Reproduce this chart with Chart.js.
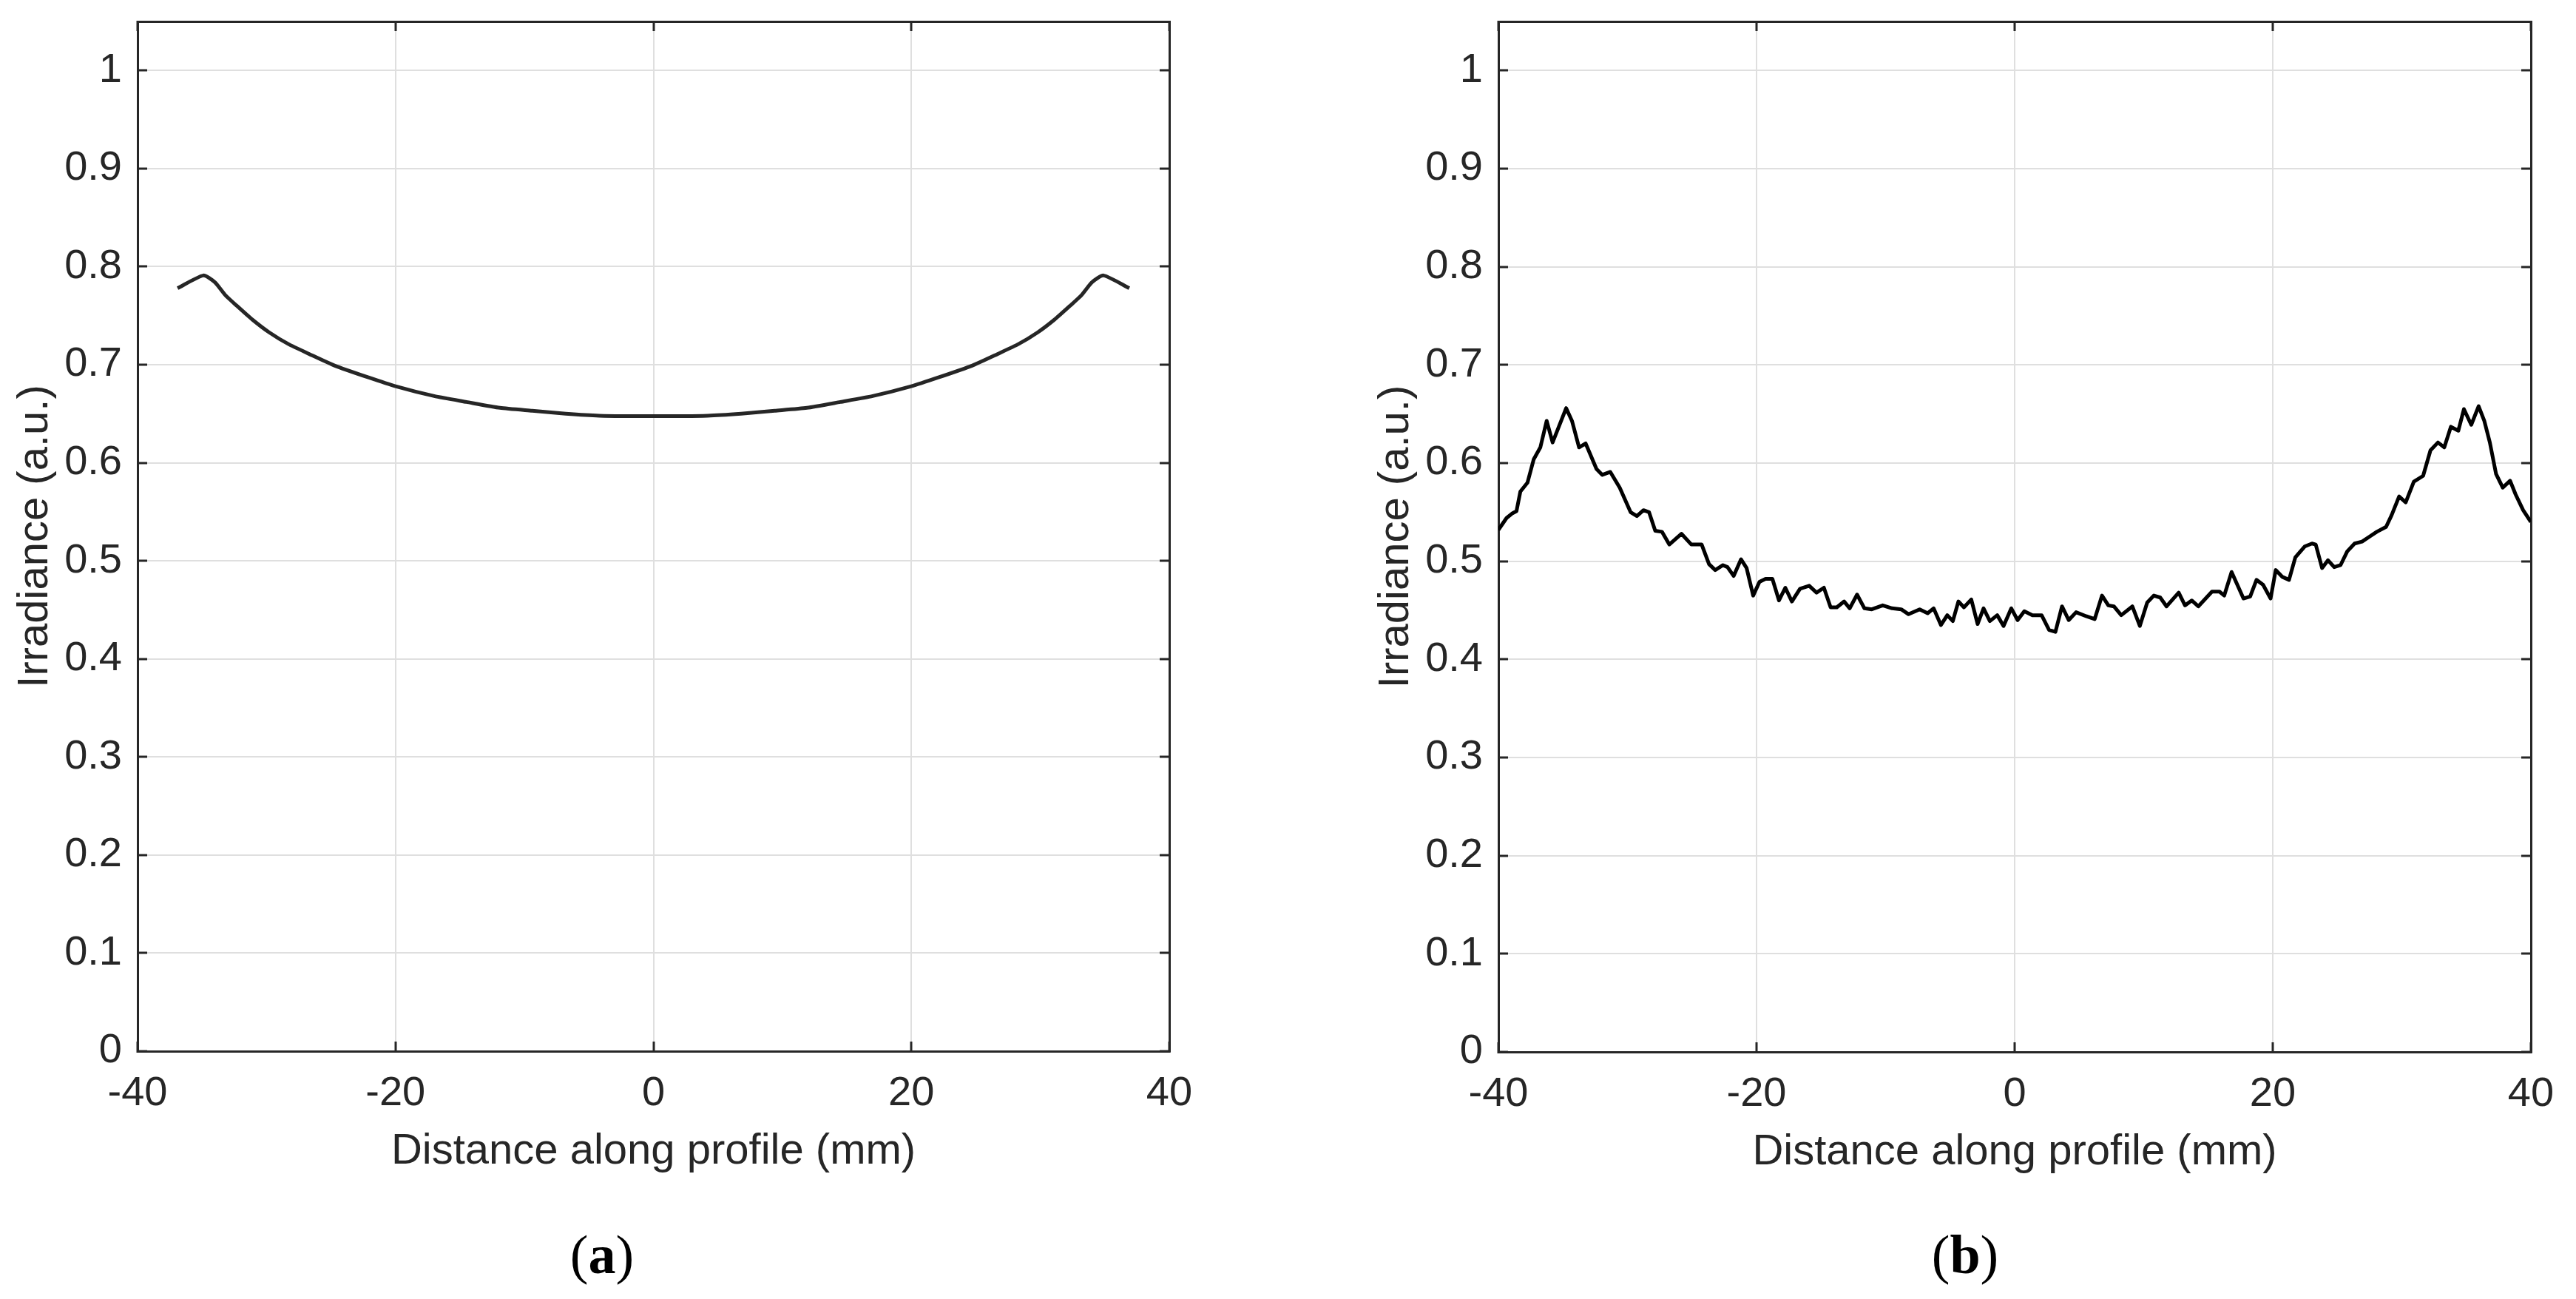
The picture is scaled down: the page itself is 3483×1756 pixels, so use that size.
<!DOCTYPE html>
<html>
<head>
<meta charset="utf-8">
<script src="https://cdn.jsdelivr.net/npm/chart.js@4.4.0/dist/chart.umd.min.js"></script>
<style>
  html, body { margin: 0; padding: 0; background: #fff; overflow: hidden; }
  body { width: 3483px; height: 1756px; position: relative; }
  canvas { position: absolute; top: 0; }
  #chartA { left: 0; }
  #chartB { left: 1840px; }
  .panel {
    position: absolute; top: 1659px; width: 200px; text-align: center;
    font-family: 'Liberation Serif', 'Times New Roman', serif;
    font-size: 74px; line-height: 74px; color: #000;
  }
  .panel b { font-weight: bold; }
</style>
</head>
<body>
<canvas id="chartA" width="1800" height="1621"></canvas>
<canvas id="chartB" width="1643" height="1622"></canvas>
<div class="panel" style="left:714px">(<b>a</b>)</div>
<div class="panel" style="left:2557px">(<b>b</b>)</div>

<script>
// ==================== data ====================
// axis ticks
var xTicks = [-40, -20, 0, 20, 40];
var xTickLabels = ['-40', '-20', '0', '20', '40'];
var yTicks = [0, 0.1, 0.2, 0.3, 0.4, 0.5, 0.6, 0.7, 0.8, 0.9, 1];
var yTickLabels = ['0', '0.1', '0.2', '0.3', '0.4', '0.5', '0.6', '0.7', '0.8', '0.9', '1'];

// (a) simulated profile
var profileAX = [-36.9, -34.9, -34.0, -33.2, -32.3, -31.1, -29.8, -28.3, -26.7, -24.7,
  -22.1, -20, -17, -14.5, -11.9, -9.4, -6.8, -4.2, 0,
  4.2, 6.8, 9.4, 11.9, 14.5, 17, 20, 22.1,
  24.7, 26.7, 28.3, 29.8, 31.1, 32.3, 33.2, 34.0, 34.9, 36.9];
var profileAY = [0.778, 0.791, 0.784, 0.771, 0.760, 0.746, 0.733, 0.721, 0.711, 0.699,
  0.687, 0.678, 0.668, 0.662, 0.656, 0.653, 0.650, 0.648, 0.6475,
  0.648, 0.650, 0.653, 0.656, 0.662, 0.668, 0.678, 0.687,
  0.699, 0.711, 0.721, 0.733, 0.746, 0.760, 0.771, 0.784, 0.791, 0.778];

// (b) measured profile
var profileBX = [-40, -39.37, -38.9, -38.6, -38.3, -37.75, -37.26, -36.75, -36.26, -35.8,
  -34.75, -34.3, -33.75, -33.24, -32.4, -31.95, -31.33, -30.6, -29.76, -29.27,
  -28.76, -28.33, -27.85, -27.33, -26.76, -25.82, -25.05, -24.25, -23.68, -23.2,
  -22.6, -22.25, -21.77, -21.2, -20.77, -20.26, -19.77, -19.3, -18.77, -18.26,
  -17.77, -17.26, -16.63, -15.92, -15.35, -14.78, -14.26, -13.78, -13.21, -12.78,
  -12.21, -11.64, -11.07, -10.22, -9.5, -8.79, -8.22, -7.36, -6.74, -6.28,
  -5.71, -5.22, -4.79,
  -4.36, -3.93, -3.36, -2.87, -2.41, -1.92, -1.35, -0.86, -0.26, 0.23,
  0.75, 1.38, 2.09, 2.67, 3.16, 3.67, 4.19, 4.76, 5.54, 6.2,
  6.77, 7.26, 7.69, 8.26, 9.12, 9.7, 10.27, 10.79, 11.28, 11.77,
  12.71, 13.2, 13.72, 14.23, 15.29, 15.87, 16.24, 16.81, 17.73, 18.25,
  18.74, 19.25, 19.83, 20.23, 20.75, 21.26, 21.75, 22.47, 23.04, 23.33,
  23.82, 24.28, 24.76, 25.25, 25.77, 26.34, 26.92, 27.49, 28.06, 28.78,
  29.21, 29.79, 30.3, 30.93, 31.65, 32.22, 32.8, 33.29, 33.8, 34.38,
  34.81, 35.38, 35.95, 36.39, 36.82, 37.3, 37.82, 38.39, 38.82, 39.4,
  40];
var profileBY = [0.532, 0.544, 0.549, 0.551, 0.571, 0.580, 0.604, 0.616, 0.643, 0.621,
  0.656, 0.643, 0.616, 0.620, 0.594, 0.588, 0.591, 0.575, 0.550, 0.546,
  0.552, 0.550, 0.531, 0.530, 0.517, 0.528, 0.517, 0.517, 0.497, 0.491,
  0.496, 0.494, 0.485, 0.502, 0.493, 0.465, 0.479, 0.482, 0.482, 0.460,
  0.473, 0.459, 0.472, 0.475, 0.468, 0.473, 0.453, 0.453, 0.459, 0.452,
  0.466, 0.452, 0.451, 0.455, 0.452, 0.451, 0.446, 0.451, 0.447, 0.452,
  0.435, 0.445, 0.439,
  0.459, 0.453, 0.461, 0.436, 0.452, 0.439, 0.445, 0.434, 0.452, 0.440,
  0.449, 0.445, 0.445, 0.430, 0.428, 0.454, 0.440, 0.448, 0.444, 0.441,
  0.465, 0.455, 0.454, 0.445, 0.454, 0.434, 0.458, 0.465, 0.463, 0.454,
  0.468, 0.455, 0.460, 0.454, 0.469, 0.469, 0.465, 0.489, 0.462, 0.464,
  0.481, 0.476, 0.462, 0.491, 0.484, 0.481, 0.504, 0.515, 0.518, 0.517,
  0.493, 0.501, 0.494, 0.496, 0.510, 0.518, 0.520, 0.525, 0.530, 0.535,
  0.547, 0.566, 0.560, 0.581, 0.587, 0.613, 0.621, 0.616, 0.637, 0.633,
  0.655, 0.639, 0.658, 0.643, 0.621, 0.589, 0.575, 0.582, 0.568, 0.552,
  0.540];

// ==================== common look (MATLAB style axes) ====================
var axisColor = '#262626';
var gridColor = '#dfdfdf';
var fontFamily = "'Liberation Sans', Arial, Helvetica, sans-serif";

function toPoints(xs, ys) {
  return xs.map(function (x, i) { return { x: x, y: ys[i] }; });
}

// inward tick marks via negative tick length
function gridOpts(onArea) {
  return { display: true, drawOnChartArea: onArea, color: gridColor, lineWidth: 2,
           drawTicks: true, tickLength: -13, tickColor: axisColor, tickWidth: 3 };
}
var borderOpts = { display: true, color: axisColor, width: 3 };

// fixed box sizes, and no extra label padding pushed into the layout
function fixSize(w, h) {
  return function (s) {
    if (w !== null) s.width = w;
    if (h !== null) s.height = h;
    s.paddingTop = 0; s.paddingBottom = 0; s.paddingLeft = 0; s.paddingRight = 0;
  };
}
function setTicks(list) {
  return function (s) { s.ticks = list.map(function (v) { return { value: v }; }); };
}

function makeScales() {
  return {
    x: {
      type: 'linear', position: 'bottom', min: -40, max: 40,
      afterBuildTicks: setTicks(xTicks),
      afterFit: fixSize(null, 200),
      grid: gridOpts(true),
      border: borderOpts,
      ticks: { padding: 37, color: axisColor, maxRotation: 0, autoSkip: false,
               font: { family: fontFamily, size: 56 },
               callback: function (v, i) { return xTickLabels[i]; } },
      title: { display: true, text: 'Distance along profile (mm)', color: axisColor,
               font: { family: fontFamily, size: 58 }, padding: { top: 0, bottom: 29 } }
    },
    y: {
      type: 'linear', position: 'left', min: 0, max: 1.05,
      afterBuildTicks: setTicks(yTicks),
      afterFit: fixSize(186, null),
      grid: gridOpts(true),
      border: borderOpts,
      ticks: { padding: 34, color: axisColor, autoSkip: false,
               font: { family: fontFamily, size: 56 },
               callback: function (v, i) { return yTickLabels[i]; } },
      title: { display: true, text: 'Irradiance (a.u.)', color: axisColor,
               font: { family: fontFamily, size: 58 }, padding: { top: 13, bottom: 0 } }
    },
    // box: mirrored ticks on top and right
    xTop: {
      type: 'linear', position: 'top', min: -40, max: 40,
      afterBuildTicks: setTicks(xTicks),
      afterFit: fixSize(null, 0),
      grid: gridOpts(false), border: borderOpts, ticks: { display: false }
    },
    yRight: {
      type: 'linear', position: 'right', min: 0, max: 1.05,
      afterBuildTicks: setTicks(yTicks),
      afterFit: fixSize(0, null),
      grid: gridOpts(false), border: borderOpts, ticks: { display: false }
    }
  };
}

function makeChart(id, points, color, tension, rightPad) {
  var ctx = document.getElementById(id).getContext('2d');
  return new Chart(ctx, {
    type: 'line',
    data: {
      datasets: [{
        data: points,
        borderColor: color,
        borderWidth: 5,
        pointRadius: 0,
        fill: false,
        tension: tension,
        borderJoinStyle: 'round'
      }]
    },
    options: {
      responsive: false,
      animation: false,
      devicePixelRatio: 1,
      layout: { padding: { left: 0, top: 29, right: rightPad, bottom: 0 } },
      plugins: { legend: { display: false }, tooltip: { enabled: false } },
      scales: makeScales()
    }
  });
}

// ===================== (a) ============================
var chartA = makeChart('chartA', toPoints(profileAX, profileAY), '#262626', 0.2, 219);

// ===================== (b) ============================
var chartB = makeChart('chartB', toPoints(profileBX, profileBY), '#000000', 0, 61);
</script>
</body>
</html>
